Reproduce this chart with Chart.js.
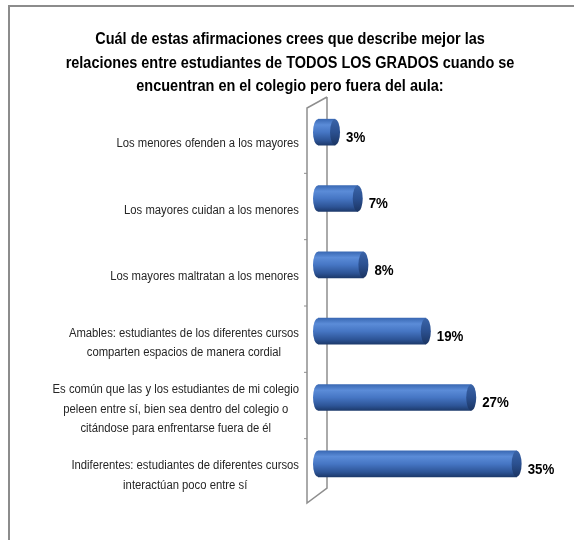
<!DOCTYPE html>
<html>
<head>
<meta charset="utf-8">
<script src="https://cdn.jsdelivr.net/npm/chart.js@4.4.0/dist/chart.umd.min.js"></script>
<style>
  html, body { margin: 0; padding: 0; background: #fff; }
  #wrap { position: relative; width: 574px; height: 540px; }
</style>
</head>
<body>
<div id="wrap"><canvas id="chart" width="574" height="540"></canvas></div>
<script>
const titleLines = [
  'Cuál de estas afirmaciones crees que describe mejor las',
  'relaciones entre estudiantes de TODOS LOS GRADOS cuando se',
  'encuentran en el colegio pero fuera del aula:'
];

const categories = [
  ['Los menores ofenden a los mayores'],
  ['Los mayores cuidan a los menores'],
  ['Los mayores maltratan a los menores'],
  ['Amables: estudiantes de los diferentes cursos', 'comparten espacios de manera cordial'],
  ['Es común que las y los estudiantes de mi colegio', 'peleen entre sí, bien sea dentro del colegio o', 'citándose para enfrentarse fuera de él'],
  ['Indiferentes: estudiantes de diferentes cursos', 'interactúan poco entre sí']
];

const percentages = [3, 7, 8, 19, 27, 35];

const FONT = '"Liberation Sans", Arial, sans-serif';
const BAR_H = 26;
const CAP_RX = 5;

// condensed text, the way the labels were set in the original sheet
function narrowText(ctx, text, x, y, sx) {
  ctx.save();
  ctx.translate(x, y);
  ctx.scale(sx, 1);
  ctx.fillText(text, 0, 0);
  ctx.restore();
}

function barGradient(ctx, y) {
  const g = ctx.createLinearGradient(0, y - BAR_H / 2, 0, y + BAR_H / 2);
  g.addColorStop(0, '#3a69b4');
  g.addColorStop(0.22, '#5b8cd8');
  g.addColorStop(0.5, '#4676c4');
  g.addColorStop(0.82, '#2d5496');
  g.addColorStop(1, '#1d3a6c');
  return g;
}

// frame, title, 3D axis walls, cylinder caps, category and value labels
const decor = {
  id: 'decor',
  beforeDraw(chart) {
    const ctx = chart.ctx;
    ctx.save();
    ctx.strokeStyle = '#8c8c8c';
    ctx.lineWidth = 2;
    ctx.strokeRect(9, 6, 700, 700);

    ctx.fillStyle = '#000';
    ctx.font = 'bold 16px ' + FONT;
    ctx.textAlign = 'center';
    ctx.textBaseline = 'middle';
    titleLines.forEach((t, i) => narrowText(ctx, t, 290, 40 + i * 23.5, 0.905));
    ctx.restore();
  },
  beforeDatasetsDraw(chart) {
    const { ctx, chartArea, scales } = chart;
    const backX = chartArea.left + 9;
    const frontX = chartArea.left - 11;
    const top = chartArea.top - 2;
    const bottom = chartArea.bottom - 9;
    ctx.save();
    ctx.strokeStyle = '#8e8e8e';
    ctx.lineWidth = 1.5;
    ctx.beginPath();
    ctx.moveTo(backX, top);
    ctx.lineTo(backX, bottom);
    ctx.lineTo(frontX, bottom + 15);
    ctx.lineTo(frontX, top + 11);
    ctx.lineTo(backX, top);
    ctx.stroke();
    // small ticks between categories on the front edge
    ctx.lineWidth = 1;
    for (let i = 1; i < categories.length; i++) {
      const y = (scales.y.getPixelForValue(i - 1) + scales.y.getPixelForValue(i)) / 2 + 8;
      ctx.beginPath();
      ctx.moveTo(frontX - 3, y);
      ctx.lineTo(frontX, y);
      ctx.stroke();
    }
    ctx.restore();
  },
  afterDatasetsDraw(chart) {
    const { ctx, scales } = chart;
    const meta = chart.getDatasetMeta(0);
    const base = scales.x.getPixelForValue(0);
    ctx.save();
    meta.data.forEach((bar, i) => {
      const y = bar.y;
      // rounded back end of the cylinder
      ctx.fillStyle = barGradient(ctx, y);
      ctx.beginPath();
      ctx.ellipse(base, y, CAP_RX, BAR_H / 2, 0, Math.PI / 2, Math.PI * 1.5);
      ctx.fill();
      // darker end face
      const g = ctx.createLinearGradient(0, y - BAR_H / 2, 0, y + BAR_H / 2);
      g.addColorStop(0, '#3a64a8');
      g.addColorStop(0.5, '#2b5090');
      g.addColorStop(1, '#1b3563');
      ctx.fillStyle = g;
      ctx.beginPath();
      ctx.ellipse(bar.x, y, CAP_RX, BAR_H / 2, 0, 0, Math.PI * 2);
      ctx.fill();

      ctx.fillStyle = '#000';
      ctx.font = 'bold 14px ' + FONT;
      ctx.textAlign = 'left';
      ctx.textBaseline = 'middle';
      narrowText(ctx, percentages[i] + '%', bar.x + CAP_RX + 6, y + 6, 0.95);
    });

    // category labels, each block centred on itself and set against the axis
    const sx = 0.94;
    ctx.font = '12px ' + FONT;
    ctx.fillStyle = '#262626';
    ctx.textBaseline = 'middle';
    ctx.textAlign = 'center';
    const rightEdge = 299;
    const lineH = 19.5;
    categories.forEach((lines, i) => {
      const cy = scales.y.getPixelForValue(i) + 12;
      const w = Math.max(...lines.map(l => ctx.measureText(l).width)) * sx;
      const cx = rightEdge - w / 2;
      lines.forEach((l, k) => {
        narrowText(ctx, l, cx, cy + (k - (lines.length - 1) / 2) * lineH, sx);
      });
    });
    ctx.restore();
  }
};

new Chart(document.getElementById('chart'), {
  type: 'bar',
  data: {
    labels: categories,
    datasets: [{
      data: percentages,
      barThickness: BAR_H,
      borderWidth: 0,
      backgroundColor: (c) => {
        const y = c.chart.scales.y;
        const py = y && c.dataIndex !== undefined ? y.getPixelForValue(c.dataIndex) : NaN;
        if (!Number.isFinite(py)) return '#4676c4';
        return barGradient(c.chart.ctx, py);
      }
    }]
  },
  options: {
    indexAxis: 'y',
    responsive: false,
    animation: false,
    events: [],
    layout: { padding: { top: 99, right: 29, bottom: 43, left: 0 } },
    scales: {
      x: {
        min: 0,
        max: 40,
        display: false
      },
      y: {
        offset: true,
        grid: { display: false },
        border: { display: false },
        ticks: { display: false },
        afterFit(scale) { scale.width = 318; }
      }
    },
    plugins: {
      legend: { display: false },
      tooltip: { enabled: false },
      title: { display: false }
    }
  },
  plugins: [decor]
});
</script>
</body>
</html>
